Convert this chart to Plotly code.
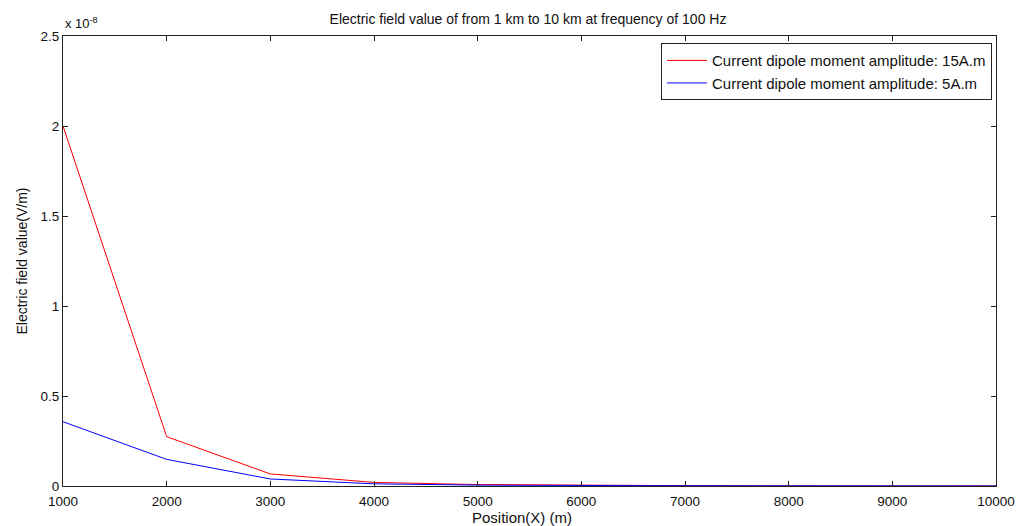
import plotly.graph_objects as go

# Distance from the source (m)
positions = [1000, 2000, 3000, 4000, 5000, 6000, 7000, 8000, 9000, 10000]

# Electric field values, in units of 1e-8 V/m
field_15Am = [2.0, 0.274, 0.067, 0.02, 0.008, 0.004, 0.002, 0.001, 0.0007, 0.0005]
field_5Am = [0.357, 0.148, 0.039, 0.012, 0.005, 0.002, 0.001, 0.0006, 0.0004, 0.0003]

x_ticks = [1000, 2000, 3000, 4000, 5000, 6000, 7000, 8000, 9000, 10000]
x_tick_text = ["1000", "2000", "3000", "4000", "5000", "6000", "7000", "8000", "9000", "10000"]
y_ticks = [0, 0.5, 1, 1.5, 2, 2.5]
y_tick_text = ["0", "0.5", "1", "1.5", "2", "2.5"]

font_family = "Liberation Sans, Arial, sans-serif"
text_color = "#111111"

fig = go.Figure()
fig.add_trace(go.Scatter(
    x=positions, y=field_15Am, mode="lines",
    name="Current dipole moment amplitude: 15A.m",
    line=dict(color="#ff0000", width=1),
))
fig.add_trace(go.Scatter(
    x=positions, y=field_5Am, mode="lines",
    name="Current dipole moment amplitude: 5A.m",
    line=dict(color="#0000ff", width=1),
))

axis_common = dict(
    showgrid=False, zeroline=False,
    showline=True, linecolor="#222222", linewidth=1, mirror="allticks",
    ticks="inside", ticklen=5, tickcolor="#222222",
    tickfont=dict(family=font_family, size=13.5, color=text_color),
)

fig.update_xaxes(
    range=[1000, 10000], tickvals=x_ticks, ticktext=x_tick_text,
    ticklabelstandoff=3,
    **axis_common,
)
fig.update_yaxes(
    range=[0, 2.5], tickvals=y_ticks, ticktext=y_tick_text,
    title=dict(text="Electric field value(V/m)", standoff=9,
               font=dict(family=font_family, size=14, color=text_color)),
    **axis_common,
)

# x-axis title, placed slightly left of the plot centre
fig.add_annotation(
    text="Position(X) (m)", xref="paper", yref="paper",
    x=(522 - 63) / 933, y=0, yshift=-31, xanchor="center", yanchor="middle",
    showarrow=False, font=dict(family=font_family, size=15, color=text_color),
)

# axis multiplier
fig.add_annotation(
    text="x 10<sup>-8</sup>", xref="paper", yref="paper",
    x=0.0, y=1.0, xanchor="left", yanchor="bottom", yshift=3,
    showarrow=False, font=dict(family=font_family, size=13, color=text_color),
)

fig.update_layout(
    width=1030, height=526,
    margin=dict(l=63, r=34, t=36, b=40),
    paper_bgcolor="white", plot_bgcolor="white",
    title=dict(
        text="Electric field value of from 1 km to 10 km at frequency of 100 Hz",
        x=(328 + 728) / 2 / 1030, xanchor="center", y=1 - 19 / 526, yanchor="middle",
        font=dict(family=font_family, size=14, color=text_color),
    ),
    legend=dict(
        x=0.9957, y=0.984, xanchor="right", yanchor="top",
        bgcolor="white", bordercolor="#222222", borderwidth=1,
        font=dict(family=font_family, size=15, color=text_color),
        tracegroupgap=0, itemwidth=40,
    ),
    showlegend=True,
)

fig.write_html("out.html")
